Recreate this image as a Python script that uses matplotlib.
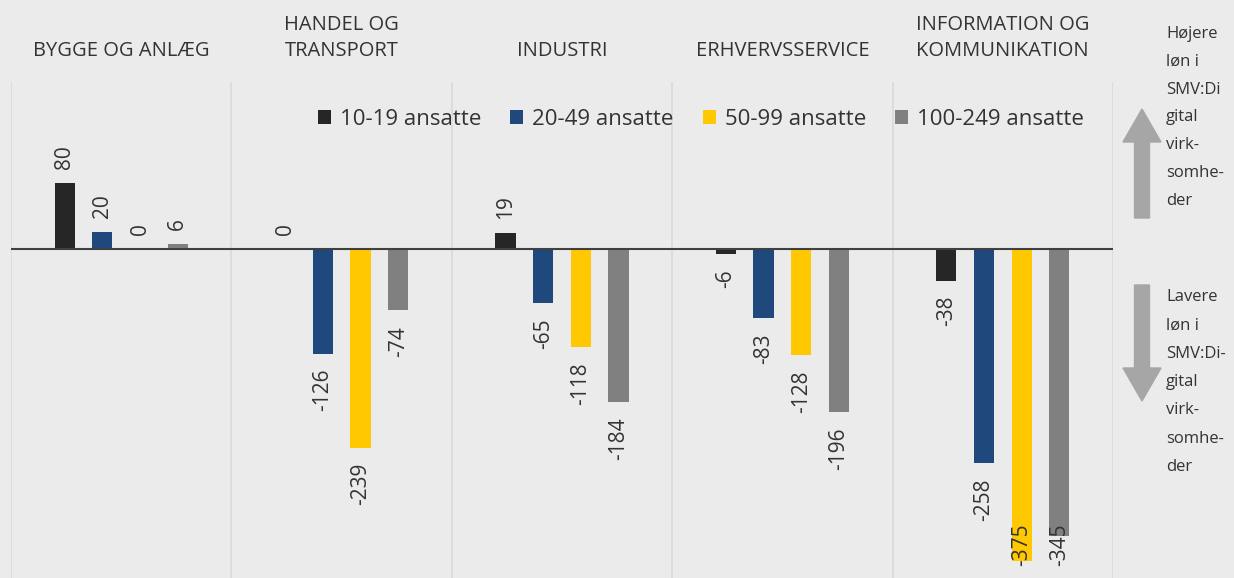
#!/usr/bin/env python3
"""Wage gap per sector and firm size, SMV:Digital vs. other firms."""

import matplotlib
matplotlib.use("Agg")
import matplotlib.pyplot as plt
from matplotlib.patches import FancyArrow, Patch

plt.rcParams["font.family"] = ["Open Sans", "DejaVu Sans"]

sectors = [
    "BYGGE OG ANLÆG",
    "HANDEL OG\nTRANSPORT",
    "INDUSTRI",
    "ERHVERVSSERVICE",
    "INFORMATION OG\nKOMMUNIKATION",
]
size_groups = ["10-19 ansatte", "20-49 ansatte", "50-99 ansatte", "100-249 ansatte"]
vals_10_19 = [80, 0, 19, -6, -38]
vals_20_49 = [20, -126, -65, -83, -258]
vals_50_99 = [0, -239, -118, -128, -375]
vals_100_249 = [6, -74, -184, -196, -345]
series = [vals_10_19, vals_20_49, vals_50_99, vals_100_249]
colors = ["#262626", "#1F497D", "#FFC800", "#808080"]

up_text = "Højere\nløn i\nSMV:Di\ngital\nvirk-\nsomhe-\nder"
down_text = "Lavere\nløn i\nSMV:Di-\ngital\nvirk-\nsomhe-\nder"

BG = "#EBEBEB"
TXT = "#333333"
W, H = 1234, 578

fig = plt.figure(figsize=(W / 100, H / 100), dpi=100, facecolor=BG)
ax_left, ax_right, ax_top = 11, 1113, 82
ax = fig.add_axes([ax_left / W, 0, (ax_right - ax_left) / W, (H - ax_top) / H])
ax.set_facecolor(BG)
ymin, ymax = -396, 201
ax.set_ylim(ymin, ymax)
ax.set_xlim(0, len(sectors))
for s in ax.spines.values():
    s.set_visible(False)
ax.set_xticks([])
ax.set_yticks([])

for x in range(len(sectors) + 1):
    ax.axvline(x, color="#D9D9D9", linewidth=1.2, zorder=0)
ax.axhline(0, color="#404040", linewidth=1.5, zorder=3)

spacing = 0.171
width = 0.092
px_per_unit = (H - ax_top) / (ymax - ymin)

for i, (vals, col) in enumerate(zip(series, colors)):
    xs = [g + 0.5 + (i - 1.5) * spacing for g in range(len(sectors))]
    ax.bar(xs, vals, width=width, color=col, zorder=2)
    for x, v in zip(xs, vals):
        label = str(v)
        if v >= 0:
            ax.annotate(label, (x, v), xytext=(0, 10), textcoords="offset points",
                        rotation=90, ha="center", va="bottom", fontsize=15, color=TXT)
        else:
            need = (15 + 11.5 * len(label)) / px_per_unit
            if v - need < ymin:
                ax.annotate(label, (x, ymin), xytext=(0, 9), textcoords="offset points",
                            rotation=90, ha="center", va="bottom", fontsize=15, color=TXT,
                            zorder=4)
            else:
                ax.annotate(label, (x, v), xytext=(0, -11), textcoords="offset points",
                            rotation=90, ha="center", va="top", fontsize=15, color=TXT)

for g, name in enumerate(sectors):
    ax.text(g + 0.5, 1.042, name, transform=ax.get_xaxis_transform(), ha="center",
            va="bottom", fontsize=14.5, color=TXT, linespacing=1.4)

handles = [Patch(facecolor=c, edgecolor="none") for c in colors]
ax.legend(handles, size_groups, ncol=4, frameon=False, loc="center",
          bbox_to_anchor=(0.626, 0.925), fontsize=16, handlelength=0.6,
          handleheight=0.6, handletextpad=0.4, columnspacing=1.3, labelcolor=TXT)

# arrows on the right side, in inches from the lower-left corner
tr = fig.dpi_scale_trans
fig.add_artist(FancyArrow(11.42, (H - 218) / 100, 0, 1.09, width=0.15, head_width=0.38,
                          head_length=0.33, length_includes_head=True,
                          color="#A6A6A6", transform=tr))
fig.add_artist(FancyArrow(11.42, (H - 285) / 100, 0, -1.16, width=0.15, head_width=0.38,
                          head_length=0.33, length_includes_head=True,
                          color="#A6A6A6", transform=tr))
fig.text(1166 / W, 1 - 26 / H, up_text, ha="left", va="top", fontsize=12,
         color=TXT, linespacing=1.98)
fig.text(1166 / W, 1 - 289 / H, down_text, ha="left", va="top", fontsize=12,
         color=TXT, linespacing=2.03)

fig.savefig("out.png", dpi=100, facecolor=BG)
